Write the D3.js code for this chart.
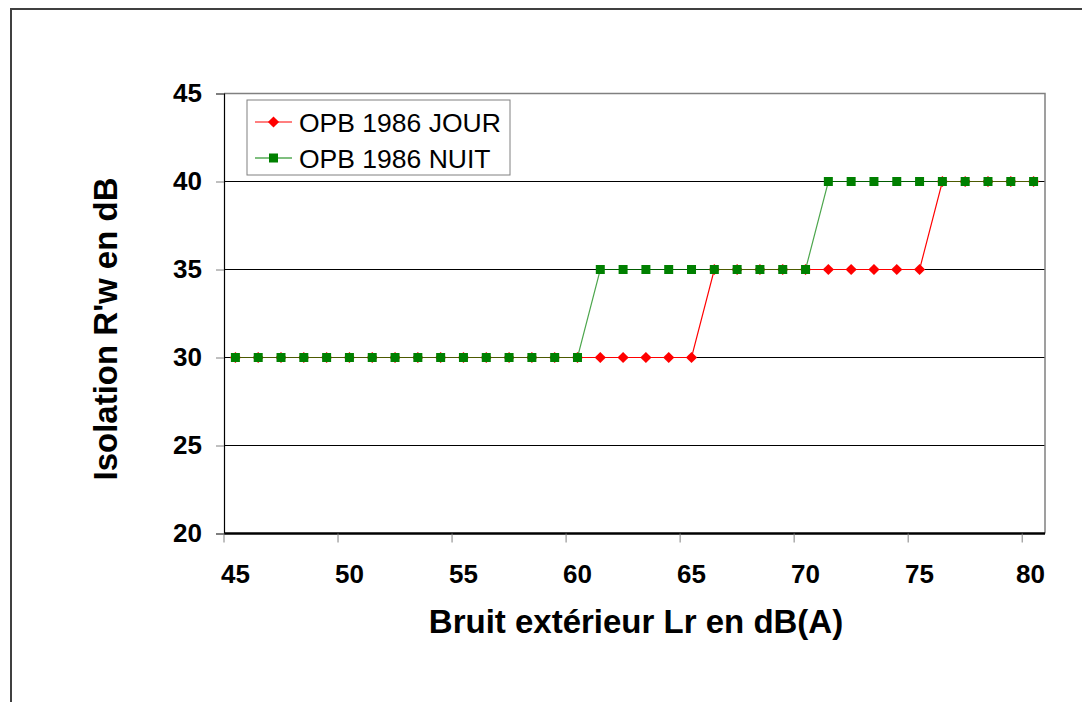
<html>
<head>
    <meta charset="utf-8">
    <title>Isolation R'w en dB</title>
    <style>
        body {
            margin: 0;
            background: white;
            font-family: "Liberation Sans", Arial, sans-serif;
        }
        .tick-label {
            font-weight: bold;
            font-size: 26px;
            fill: black;
        }
    </style>
    <script src="https://cdn.jsdelivr.net/npm/d3@7"></script>
</head>
<body>
    <div class="mainView"></div>
</body>
<script>

    // bruit exterieur Lr (categories)
    let bruit = [45, 46, 47, 48, 49, 50, 51, 52, 53, 54, 55, 56, 57, 58, 59, 60, 61, 62,
                 63, 64, 65, 66, 67, 68, 69, 70, 71, 72, 73, 74, 75, 76, 77, 78, 79, 80]
    let jour  = [30, 30, 30, 30, 30, 30, 30, 30, 30, 30, 30, 30, 30, 30, 30, 30, 30, 30,
                 30, 30, 30, 35, 35, 35, 35, 35, 35, 35, 35, 35, 35, 40, 40, 40, 40, 40]
    let nuit  = [30, 30, 30, 30, 30, 30, 30, 30, 30, 30, 30, 30, 30, 30, 30, 30, 35, 35,
                 35, 35, 35, 35, 35, 35, 35, 35, 40, 40, 40, 40, 40, 40, 40, 40, 40, 40]
    let xTickLabels = [45, 50, 55, 60, 65, 70, 75, 80]
    let yTickLabels = [20, 25, 30, 35, 40, 45]
    let seriesNames = ["OPB 1986 JOUR", "OPB 1986 NUIT"]

    function getChartConfig() {
        let width = 1082;
        let height = 702;
        let margin = {
            top: 93.5,
            bottom: 168.5,
            left: 224,
            right: 37
        }
        let bodyHeight = height - margin.top - margin.bottom;
        let bodyWidth = width - margin.left - margin.right;
        let svg = d3.select(".mainView")
                        .append("svg")
                        .attr("width", width)
                        .attr("height", height)
                        .attr("id", "Chart")
        // outer frame of the excel chart area
        svg.append("rect")
            .attr("x", 11)
            .attr("y", 9)
            .attr("width", 1200)
            .attr("height", 800)
            .attr("fill", "none")
            .attr("stroke", "#404040")
            .attr("stroke-width", 2)
        let container = svg.append("g")
                        .attr("transform", "translate("+[margin.left,margin.top]+")")
        return { width, height, margin, bodyHeight, bodyWidth, svg, container };
    }

    function getChartScales(config) {
        let { bodyWidth, bodyHeight } = config;
        let xScale = d3.scaleBand()
            .domain(bruit)
            .range([0, bodyWidth])
            .padding(0)
        let yScale = d3.scaleLinear()
            .domain([20, 45])
            .range([bodyHeight, 0])
        return { xScale, yScale }
    }

    function drawAxes(scales, config) {
        let { xScale, yScale } = scales;
        let { container, bodyWidth, bodyHeight, svg, margin } = config;

        // gridlines
        yTickLabels.filter(v => v > 20 && v < 45).forEach(v => {
            container.append("line")
                .attr("x1", 0).attr("x2", bodyWidth)
                .attr("y1", yScale(v)).attr("y2", yScale(v))
                .style("stroke", "black")
                .style("stroke-width", 1)
        })
        // top and right border
        container.append("path")
            .attr("d", "M0," + yScale(45) + "H" + bodyWidth + "V" + bodyHeight)
            .attr("fill", "none")
            .style("stroke", "#808080")
            .style("stroke-width", 1.5)

        // y axis
        let axisY = d3.axisLeft(yScale)
            .tickValues(yTickLabels)
            .tickSize(8)
            .tickPadding(14)
        let gy = container.append("g").call(axisY)
        gy.select(".domain").style("stroke", "black").style("stroke-width", 1.2)
        gy.selectAll(".tick line").style("stroke", "#808080")
        gy.selectAll("text").attr("class", "tick-label").attr("font-family", null).attr("font-size", null)

        // x axis: ticks between categories, labels centred on categories
        let xg = container.append("g")
            .attr("transform", "translate(0," + bodyHeight + ")")
        xg.append("line")
            .attr("x1", 0).attr("x2", bodyWidth)
            .style("stroke", "black")
            .style("stroke-width", 2.5)
        xTickLabels.forEach(v => {
            xg.append("line")
                .attr("x1", xScale(v)).attr("x2", xScale(v))
                .attr("y1", 0).attr("y2", 9)
                .style("stroke", "#808080")
            let lbl = xg.append("text")
                .attr("class", "tick-label")
                .attr("x", xScale(v) + xScale.bandwidth() / 2)
                .attr("y", 49)
                .attr("text-anchor", "middle")
                .text(v)
            // keep the last label inside the plot, like excel does
            let w = lbl.node().getComputedTextLength();
            let right = xScale(v) + xScale.bandwidth() / 2 + w / 2;
            if (right > bodyWidth) lbl.attr("x", bodyWidth - w / 2)
        })

        // titles
        svg.append("text")
            .attr("x", 636)
            .attr("y", 633)
            .attr("text-anchor", "middle")
            .style("font-weight", "bold")
            .style("font-size", "33px")
            .text("Bruit extérieur Lr en dB(A)")
        svg.append("text")
            .attr("transform", "translate(117,329) rotate(-90)")
            .attr("text-anchor", "middle")
            .style("font-weight", "bold")
            .style("font-size", "33px")
            .text("Isolation R'w en dB")
    }

    function drawSeries(scales, config) {
        let { xScale, yScale } = scales;
        let { container } = config;
        let cx = (d, i) => xScale(bruit[i]) + xScale.bandwidth() / 2;
        let line = d3.line()
            .x(cx)
            .y(d => yScale(d))

        container.append("path")
            .datum(jour)
            .attr("d", line)
            .attr("fill", "none")
            .style("stroke", "#ff0000")
            .style("stroke-width", 1.2)
        container.selectAll(".jour")
            .data(jour)
            .enter()
            .append("path")
            .attr("class", "jour")
            .attr("transform", (d, i) => "translate(" + cx(d, i) + "," + yScale(d) + ")")
            .attr("d", d3.symbol(d3.symbolDiamond2, 80))
            .attr("fill", "#ff0000")

        container.append("path")
            .datum(nuit)
            .attr("d", line)
            .attr("fill", "none")
            .style("stroke", "#008000")
            .style("stroke-opacity", 0.7)
            .style("stroke-width", 1.2)
        container.selectAll(".nuit")
            .data(nuit)
            .enter()
            .append("rect")
            .attr("class", "nuit")
            .attr("x", (d, i) => cx(d, i) - 4.5)
            .attr("y", d => yScale(d) - 4.5)
            .attr("width", 9)
            .attr("height", 9)
            .attr("fill", "#008000")
    }

    function drawLegend(config) {
        let { svg } = config;
        let g = svg.append("g").attr("transform", "translate(247,100)")
        g.append("rect")
            .attr("width", 263)
            .attr("height", 75)
            .attr("fill", "white")
            .style("stroke", "#808080")
            .style("stroke-width", 1)
        let colors = ["#ff0000", "#008000"]
        seriesNames.forEach((name, i) => {
            let y = 22 + i * 36;
            g.append("line")
                .attr("x1", 8).attr("x2", 45)
                .attr("y1", y).attr("y2", y)
                .style("stroke", colors[i])
                .style("stroke-width", 1.2)
            if (i == 0) {
                g.append("path")
                    .attr("transform", "translate(26.5," + y + ")")
                    .attr("d", d3.symbol(d3.symbolDiamond2, 80))
                    .attr("fill", colors[i])
            } else {
                g.append("rect")
                    .attr("x", 22).attr("y", y - 4.5)
                    .attr("width", 9).attr("height", 9)
                    .attr("fill", colors[i])
            }
            g.append("text")
                .attr("x", 52)
                .attr("y", y + 9.5)
                .style("font-size", "26.5px")
                .text(name)
        })
    }

    function showData() {
        let config = getChartConfig();
        let scales = getChartScales(config);
        drawAxes(scales, config);
        drawSeries(scales, config);
        drawLegend(config);
    }
    showData();

</script>
</html>
